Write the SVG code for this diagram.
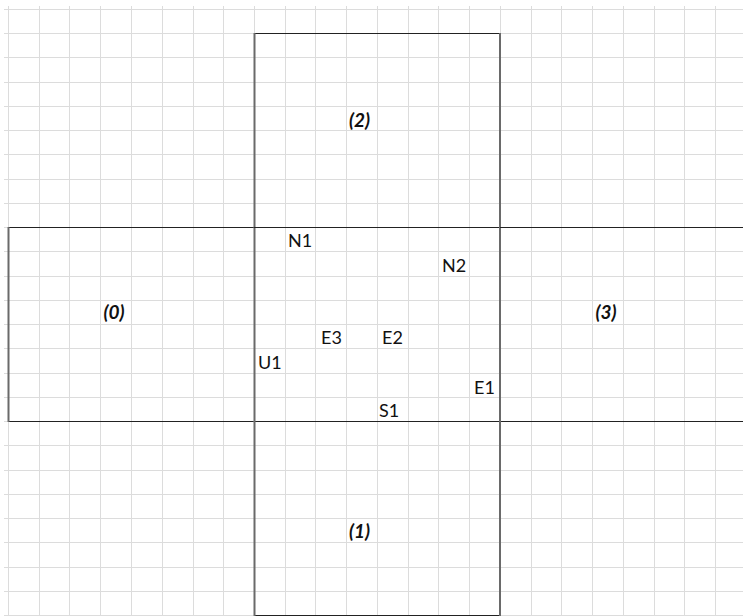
<svg xmlns="http://www.w3.org/2000/svg" width="743" height="616" viewBox="0 0 743 616">
<style>
.grid{stroke:#dcdcdc;stroke-width:1;fill:none}
.hb{stroke:#222;stroke-width:1;fill:none}
.vb{stroke:#6a6a6a;stroke-width:2;fill:none}
.lbl{font-family:Lato,"Liberation Sans",sans-serif;font-size:19px;font-weight:bold;font-style:italic;fill:#111;text-anchor:middle}
.pt{font-family:Lato,"Liberation Sans",sans-serif;font-size:18px;fill:#111}
</style>
<rect width="743" height="616" fill="#fff"/>
<g id="grid" class="grid">
<path d="M8.5 6V616M39.5 6V616M69.5 6V616M100.5 6V616M131.5 6V616M162.5 6V616M193.5 6V616M223.5 6V616M254.5 6V616M285.5 6V616M315.5 6V616M346.5 6V616M377.5 6V616M408.5 6V616M438.5 6V616M469.5 6V616M500.5 6V616M531.5 6V616M561.5 6V616M592.5 6V616M623.5 6V616M654.5 6V616M684.5 6V616M715.5 6V616"/>
<path d="M4 9.5H743M4 33.5H743M4 57.5H743M4 82.5H743M4 106.5H743M4 130.5H743M4 154.5H743M4 179.5H743M4 203.5H743M4 227.5H743M4 251.5H743M4 276.5H743M4 300.5H743M4 324.5H743M4 348.5H743M4 373.5H743M4 397.5H743M4 421.5H743M4 445.5H743M4 470.5H743M4 494.5H743M4 518.5H743M4 542.5H743M4 567.5H743M4 591.5H743M4 615.5H743"/>
</g>
<g id="region2">
<path class="hb" d="M254 33.5H500"/>
<path class="vb" d="M254.5 33V227M500 33V227"/>
<text class="lbl" x="359.5" y="127">(2)</text>
</g>
<g id="region0">
<path class="hb" d="M8 227.5H254M8 421.5H254"/>
<path class="vb" d="M8.5 227V422M254.5 227V422"/>
<text class="lbl" x="114" y="319">(0)</text>
</g>
<g id="regioncenter">
<path class="hb" d="M254 227.5H500M254 421.5H500"/>
<path class="vb" d="M500 227V422"/>
<text class="pt" x="288" y="247">N1</text>
<text class="pt" x="442" y="272">N2</text>
<text class="pt" x="321" y="344">E3</text>
<text class="pt" x="382" y="344">E2</text>
<text class="pt" x="258" y="369">U1</text>
<text class="pt" x="474" y="394">E1</text>
<text class="pt" x="379" y="417">S1</text>
</g>
<g id="region3">
<path class="hb" d="M500 227.5H743M500 421.5H743"/>
<text class="lbl" x="606" y="319">(3)</text>
</g>
<g id="region1">
<path class="hb" d="M254 615.5H500"/>
<path class="vb" d="M254.5 421V616M500 421V616"/>
<text class="lbl" x="359.5" y="538">(1)</text>
</g>
<g id="connectors"/>
</svg>
